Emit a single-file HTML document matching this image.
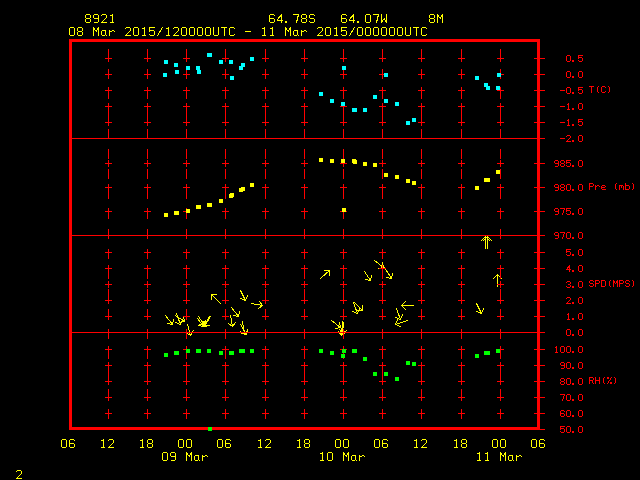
<!DOCTYPE html>
<html><head><meta charset="utf-8"><title>Meteogram 8921</title>
<style>html,body{margin:0;padding:0;background:#000;overflow:hidden;font-family:"Liberation Mono",monospace}svg{display:block}</style>
</head><body>
<svg width="640" height="480" viewBox="0 0 640 480" shape-rendering="crispEdges">
<rect x="0" y="0" width="640" height="480" fill="#000"/>
<path d="M165.5 315.5 L172.5 324.5 M172.5 324.5 L173.5 319.5 M172.5 324.5 L167.5 323.5 M176.5 313.5 L180.5 324.5 M180.5 324.5 L182.5 319.5 M180.5 324.5 L175.5 322.5 M175.5 315.5 L184.5 321.5 M184.5 321.5 L183.5 316.5 M184.5 321.5 L179.5 322.5 M187.5 324.5 L190.5 335.5 M190.5 335.5 L193.5 330.5 M190.5 335.5 L185.5 332.5 M197.5 318.5 L203.5 326.5 M203.5 326.5 L204.5 321.5 M203.5 326.5 L198.5 325.5 M198.5 316.5 L204.5 325.5 M204.5 325.5 L205.5 320.5 M204.5 325.5 L199.5 324.5 M209.5 316.5 L203.5 326.5 M203.5 326.5 L208.5 325.5 M203.5 326.5 L202.5 321.5 M210.5 316.5 L204.5 326.5 M204.5 326.5 L209.5 325.5 M204.5 326.5 L203.5 321.5 M220.5 303.5 L211.5 294.5 M211.5 294.5 L211.5 299.5 M211.5 294.5 L216.5 294.5 M240.5 290.5 L245.5 300.5 M245.5 300.5 L247.5 295.5 M245.5 300.5 L240.5 298.5 M251.5 303.5 L262.5 305.5 M262.5 305.5 L259.5 301.5 M262.5 305.5 L258.5 308.5 M231.5 307.5 L238.5 316.5 M238.5 316.5 L239.5 311.5 M238.5 316.5 L233.5 315.5 M230.5 315.5 L232.5 326.5 M232.5 326.5 L235.5 322.5 M232.5 326.5 L228.5 323.5 M242.5 321.5 L244.5 334.5 M244.5 334.5 L247.5 330.5 M244.5 334.5 L240.5 331.5 M240.5 324.5 L246.5 334.5 M246.5 334.5 L247.5 329.5 M246.5 334.5 L241.5 333.5 M320.5 278.5 L329.5 270.5 M329.5 270.5 L324.5 270.5 M329.5 270.5 L329.5 275.5 M364.5 271.5 L370.5 280.5 M370.5 280.5 L371.5 275.5 M370.5 280.5 L365.5 279.5 M374.5 260.5 L383.5 267.5 M383.5 267.5 L382.5 262.5 M383.5 267.5 L378.5 268.5 M384.5 267.5 L391.5 278.5 M391.5 278.5 L392.5 273.5 M391.5 278.5 L386.5 277.5 M353.5 302.5 L357.5 313.5 M357.5 313.5 L359.5 308.5 M357.5 313.5 L352.5 311.5 M354.5 302.5 L362.5 310.5 M362.5 310.5 L362.5 305.5 M362.5 310.5 L357.5 310.5 M331.5 320.5 L340.5 327.5 M340.5 327.5 L339.5 322.5 M340.5 327.5 L335.5 328.5 M342.5 321.5 L341.5 335.5 M341.5 335.5 L345.5 332.5 M341.5 335.5 L338.5 331.5 M343.5 322.5 L342.5 333.5 M342.5 333.5 L346.5 330.5 M342.5 333.5 L339.5 329.5 M413.5 305.5 L401.5 305.5 M401.5 305.5 L405.5 309.5 M401.5 305.5 L405.5 301.5 M396.5 308.5 L400.5 319.5 M400.5 319.5 L402.5 314.5 M400.5 319.5 L395.5 317.5 M407.5 320.5 L395.5 324.5 M395.5 324.5 L400.5 326.5 M395.5 324.5 L397.5 319.5 M485.5 248.5 L485.5 236.5 M485.5 236.5 L481.5 240.5 M485.5 236.5 L489.5 240.5 M487.5 248.5 L487.5 236.5 M487.5 236.5 L483.5 240.5 M487.5 236.5 L491.5 240.5 M497.5 286.5 L497.5 274.5 M497.5 274.5 L493.5 278.5 M497.5 274.5 L501.5 278.5 M476.5 303.5 L481.5 313.5 M481.5 313.5 L483.5 308.5 M481.5 313.5 L476.5 311.5" fill="none" stroke="#ffff00" stroke-width="1" stroke-linecap="square"/>
<rect x="70.5" y="40.5" width="468" height="388" fill="none" stroke="#ff0000" stroke-width="3"/>
<g fill="#ff0000"><rect x="72" y="138" width="473" height="1"/><rect x="72" y="235" width="473" height="1"/><rect x="72" y="332" width="473" height="1"/><rect x="534" y="58" width="11" height="1"/><rect x="534" y="74" width="11" height="1"/><rect x="534" y="90" width="11" height="1"/><rect x="534" y="106" width="11" height="1"/><rect x="534" y="122" width="11" height="1"/><rect x="534" y="163" width="11" height="1"/><rect x="534" y="187" width="11" height="1"/><rect x="534" y="211" width="11" height="1"/><rect x="534" y="252" width="11" height="1"/><rect x="534" y="268" width="11" height="1"/><rect x="534" y="284" width="11" height="1"/><rect x="534" y="300" width="11" height="1"/><rect x="534" y="316" width="11" height="1"/><rect x="534" y="349" width="11" height="1"/><rect x="534" y="365" width="11" height="1"/><rect x="534" y="381" width="11" height="1"/><rect x="534" y="397" width="11" height="1"/><rect x="534" y="413" width="11" height="1"/><rect x="540" y="429" width="5" height="1"/><rect x="108" y="49" width="1" height="10"/><rect x="108" y="69" width="1" height="10"/><rect x="108" y="89" width="1" height="10"/><rect x="108" y="109" width="1" height="10"/><rect x="108" y="129" width="1" height="10"/><rect x="108" y="149" width="1" height="10"/><rect x="108" y="169" width="1" height="10"/><rect x="108" y="189" width="1" height="10"/><rect x="108" y="209" width="1" height="10"/><rect x="108" y="229" width="1" height="10"/><rect x="108" y="249" width="1" height="10"/><rect x="108" y="269" width="1" height="10"/><rect x="108" y="289" width="1" height="10"/><rect x="108" y="309" width="1" height="10"/><rect x="108" y="329" width="1" height="10"/><rect x="108" y="349" width="1" height="10"/><rect x="108" y="369" width="1" height="10"/><rect x="108" y="389" width="1" height="10"/><rect x="108" y="409" width="1" height="10"/><rect x="105" y="58" width="7" height="1"/><rect x="108" y="55" width="1" height="7"/><rect x="105" y="74" width="7" height="1"/><rect x="108" y="71" width="1" height="7"/><rect x="105" y="90" width="7" height="1"/><rect x="108" y="87" width="1" height="7"/><rect x="105" y="106" width="7" height="1"/><rect x="108" y="103" width="1" height="7"/><rect x="105" y="122" width="7" height="1"/><rect x="108" y="119" width="1" height="7"/><rect x="105" y="163" width="7" height="1"/><rect x="108" y="160" width="1" height="7"/><rect x="105" y="187" width="7" height="1"/><rect x="108" y="184" width="1" height="7"/><rect x="105" y="211" width="7" height="1"/><rect x="108" y="208" width="1" height="7"/><rect x="105" y="252" width="7" height="1"/><rect x="108" y="249" width="1" height="7"/><rect x="105" y="268" width="7" height="1"/><rect x="108" y="265" width="1" height="7"/><rect x="105" y="284" width="7" height="1"/><rect x="108" y="281" width="1" height="7"/><rect x="105" y="300" width="7" height="1"/><rect x="108" y="297" width="1" height="7"/><rect x="105" y="316" width="7" height="1"/><rect x="108" y="313" width="1" height="7"/><rect x="105" y="349" width="7" height="1"/><rect x="108" y="346" width="1" height="7"/><rect x="105" y="365" width="7" height="1"/><rect x="108" y="362" width="1" height="7"/><rect x="105" y="381" width="7" height="1"/><rect x="108" y="378" width="1" height="7"/><rect x="105" y="397" width="7" height="1"/><rect x="108" y="394" width="1" height="7"/><rect x="105" y="413" width="7" height="1"/><rect x="108" y="410" width="1" height="7"/><rect x="147" y="49" width="1" height="10"/><rect x="147" y="69" width="1" height="10"/><rect x="147" y="89" width="1" height="10"/><rect x="147" y="109" width="1" height="10"/><rect x="147" y="129" width="1" height="10"/><rect x="147" y="149" width="1" height="10"/><rect x="147" y="169" width="1" height="10"/><rect x="147" y="189" width="1" height="10"/><rect x="147" y="209" width="1" height="10"/><rect x="147" y="229" width="1" height="10"/><rect x="147" y="249" width="1" height="10"/><rect x="147" y="269" width="1" height="10"/><rect x="147" y="289" width="1" height="10"/><rect x="147" y="309" width="1" height="10"/><rect x="147" y="329" width="1" height="10"/><rect x="147" y="349" width="1" height="10"/><rect x="147" y="369" width="1" height="10"/><rect x="147" y="389" width="1" height="10"/><rect x="147" y="409" width="1" height="10"/><rect x="144" y="58" width="7" height="1"/><rect x="147" y="55" width="1" height="7"/><rect x="144" y="74" width="7" height="1"/><rect x="147" y="71" width="1" height="7"/><rect x="144" y="90" width="7" height="1"/><rect x="147" y="87" width="1" height="7"/><rect x="144" y="106" width="7" height="1"/><rect x="147" y="103" width="1" height="7"/><rect x="144" y="122" width="7" height="1"/><rect x="147" y="119" width="1" height="7"/><rect x="144" y="163" width="7" height="1"/><rect x="147" y="160" width="1" height="7"/><rect x="144" y="187" width="7" height="1"/><rect x="147" y="184" width="1" height="7"/><rect x="144" y="211" width="7" height="1"/><rect x="147" y="208" width="1" height="7"/><rect x="144" y="252" width="7" height="1"/><rect x="147" y="249" width="1" height="7"/><rect x="144" y="268" width="7" height="1"/><rect x="147" y="265" width="1" height="7"/><rect x="144" y="284" width="7" height="1"/><rect x="147" y="281" width="1" height="7"/><rect x="144" y="300" width="7" height="1"/><rect x="147" y="297" width="1" height="7"/><rect x="144" y="316" width="7" height="1"/><rect x="147" y="313" width="1" height="7"/><rect x="144" y="349" width="7" height="1"/><rect x="147" y="346" width="1" height="7"/><rect x="144" y="365" width="7" height="1"/><rect x="147" y="362" width="1" height="7"/><rect x="144" y="381" width="7" height="1"/><rect x="147" y="378" width="1" height="7"/><rect x="144" y="397" width="7" height="1"/><rect x="147" y="394" width="1" height="7"/><rect x="144" y="413" width="7" height="1"/><rect x="147" y="410" width="1" height="7"/><rect x="186" y="49" width="1" height="10"/><rect x="186" y="69" width="1" height="10"/><rect x="186" y="89" width="1" height="10"/><rect x="186" y="109" width="1" height="10"/><rect x="186" y="129" width="1" height="10"/><rect x="186" y="149" width="1" height="10"/><rect x="186" y="169" width="1" height="10"/><rect x="186" y="189" width="1" height="10"/><rect x="186" y="209" width="1" height="10"/><rect x="186" y="229" width="1" height="10"/><rect x="186" y="249" width="1" height="10"/><rect x="186" y="269" width="1" height="10"/><rect x="186" y="289" width="1" height="10"/><rect x="186" y="309" width="1" height="10"/><rect x="186" y="329" width="1" height="10"/><rect x="186" y="349" width="1" height="10"/><rect x="186" y="369" width="1" height="10"/><rect x="186" y="389" width="1" height="10"/><rect x="186" y="409" width="1" height="10"/><rect x="183" y="58" width="7" height="1"/><rect x="186" y="55" width="1" height="7"/><rect x="183" y="74" width="7" height="1"/><rect x="186" y="71" width="1" height="7"/><rect x="183" y="90" width="7" height="1"/><rect x="186" y="87" width="1" height="7"/><rect x="183" y="106" width="7" height="1"/><rect x="186" y="103" width="1" height="7"/><rect x="183" y="122" width="7" height="1"/><rect x="186" y="119" width="1" height="7"/><rect x="183" y="163" width="7" height="1"/><rect x="186" y="160" width="1" height="7"/><rect x="183" y="187" width="7" height="1"/><rect x="186" y="184" width="1" height="7"/><rect x="183" y="211" width="7" height="1"/><rect x="186" y="208" width="1" height="7"/><rect x="183" y="252" width="7" height="1"/><rect x="186" y="249" width="1" height="7"/><rect x="183" y="268" width="7" height="1"/><rect x="186" y="265" width="1" height="7"/><rect x="183" y="284" width="7" height="1"/><rect x="186" y="281" width="1" height="7"/><rect x="183" y="300" width="7" height="1"/><rect x="186" y="297" width="1" height="7"/><rect x="183" y="316" width="7" height="1"/><rect x="186" y="313" width="1" height="7"/><rect x="183" y="349" width="7" height="1"/><rect x="186" y="346" width="1" height="7"/><rect x="183" y="365" width="7" height="1"/><rect x="186" y="362" width="1" height="7"/><rect x="183" y="381" width="7" height="1"/><rect x="186" y="378" width="1" height="7"/><rect x="183" y="397" width="7" height="1"/><rect x="186" y="394" width="1" height="7"/><rect x="183" y="413" width="7" height="1"/><rect x="186" y="410" width="1" height="7"/><rect x="225" y="49" width="1" height="10"/><rect x="225" y="69" width="1" height="10"/><rect x="225" y="89" width="1" height="10"/><rect x="225" y="109" width="1" height="10"/><rect x="225" y="129" width="1" height="10"/><rect x="225" y="149" width="1" height="10"/><rect x="225" y="169" width="1" height="10"/><rect x="225" y="189" width="1" height="10"/><rect x="225" y="209" width="1" height="10"/><rect x="225" y="229" width="1" height="10"/><rect x="225" y="249" width="1" height="10"/><rect x="225" y="269" width="1" height="10"/><rect x="225" y="289" width="1" height="10"/><rect x="225" y="309" width="1" height="10"/><rect x="225" y="329" width="1" height="10"/><rect x="225" y="349" width="1" height="10"/><rect x="225" y="369" width="1" height="10"/><rect x="225" y="389" width="1" height="10"/><rect x="225" y="409" width="1" height="10"/><rect x="222" y="58" width="7" height="1"/><rect x="225" y="55" width="1" height="7"/><rect x="222" y="74" width="7" height="1"/><rect x="225" y="71" width="1" height="7"/><rect x="222" y="90" width="7" height="1"/><rect x="225" y="87" width="1" height="7"/><rect x="222" y="106" width="7" height="1"/><rect x="225" y="103" width="1" height="7"/><rect x="222" y="122" width="7" height="1"/><rect x="225" y="119" width="1" height="7"/><rect x="222" y="163" width="7" height="1"/><rect x="225" y="160" width="1" height="7"/><rect x="222" y="187" width="7" height="1"/><rect x="225" y="184" width="1" height="7"/><rect x="222" y="211" width="7" height="1"/><rect x="225" y="208" width="1" height="7"/><rect x="222" y="252" width="7" height="1"/><rect x="225" y="249" width="1" height="7"/><rect x="222" y="268" width="7" height="1"/><rect x="225" y="265" width="1" height="7"/><rect x="222" y="284" width="7" height="1"/><rect x="225" y="281" width="1" height="7"/><rect x="222" y="300" width="7" height="1"/><rect x="225" y="297" width="1" height="7"/><rect x="222" y="316" width="7" height="1"/><rect x="225" y="313" width="1" height="7"/><rect x="222" y="349" width="7" height="1"/><rect x="225" y="346" width="1" height="7"/><rect x="222" y="365" width="7" height="1"/><rect x="225" y="362" width="1" height="7"/><rect x="222" y="381" width="7" height="1"/><rect x="225" y="378" width="1" height="7"/><rect x="222" y="397" width="7" height="1"/><rect x="225" y="394" width="1" height="7"/><rect x="222" y="413" width="7" height="1"/><rect x="225" y="410" width="1" height="7"/><rect x="265" y="49" width="1" height="10"/><rect x="265" y="69" width="1" height="10"/><rect x="265" y="89" width="1" height="10"/><rect x="265" y="109" width="1" height="10"/><rect x="265" y="129" width="1" height="10"/><rect x="265" y="149" width="1" height="10"/><rect x="265" y="169" width="1" height="10"/><rect x="265" y="189" width="1" height="10"/><rect x="265" y="209" width="1" height="10"/><rect x="265" y="229" width="1" height="10"/><rect x="265" y="249" width="1" height="10"/><rect x="265" y="269" width="1" height="10"/><rect x="265" y="289" width="1" height="10"/><rect x="265" y="309" width="1" height="10"/><rect x="265" y="329" width="1" height="10"/><rect x="265" y="349" width="1" height="10"/><rect x="265" y="369" width="1" height="10"/><rect x="265" y="389" width="1" height="10"/><rect x="265" y="409" width="1" height="10"/><rect x="262" y="58" width="7" height="1"/><rect x="265" y="55" width="1" height="7"/><rect x="262" y="74" width="7" height="1"/><rect x="265" y="71" width="1" height="7"/><rect x="262" y="90" width="7" height="1"/><rect x="265" y="87" width="1" height="7"/><rect x="262" y="106" width="7" height="1"/><rect x="265" y="103" width="1" height="7"/><rect x="262" y="122" width="7" height="1"/><rect x="265" y="119" width="1" height="7"/><rect x="262" y="163" width="7" height="1"/><rect x="265" y="160" width="1" height="7"/><rect x="262" y="187" width="7" height="1"/><rect x="265" y="184" width="1" height="7"/><rect x="262" y="211" width="7" height="1"/><rect x="265" y="208" width="1" height="7"/><rect x="262" y="252" width="7" height="1"/><rect x="265" y="249" width="1" height="7"/><rect x="262" y="268" width="7" height="1"/><rect x="265" y="265" width="1" height="7"/><rect x="262" y="284" width="7" height="1"/><rect x="265" y="281" width="1" height="7"/><rect x="262" y="300" width="7" height="1"/><rect x="265" y="297" width="1" height="7"/><rect x="262" y="316" width="7" height="1"/><rect x="265" y="313" width="1" height="7"/><rect x="262" y="349" width="7" height="1"/><rect x="265" y="346" width="1" height="7"/><rect x="262" y="365" width="7" height="1"/><rect x="265" y="362" width="1" height="7"/><rect x="262" y="381" width="7" height="1"/><rect x="265" y="378" width="1" height="7"/><rect x="262" y="397" width="7" height="1"/><rect x="265" y="394" width="1" height="7"/><rect x="262" y="413" width="7" height="1"/><rect x="265" y="410" width="1" height="7"/><rect x="304" y="49" width="1" height="10"/><rect x="304" y="69" width="1" height="10"/><rect x="304" y="89" width="1" height="10"/><rect x="304" y="109" width="1" height="10"/><rect x="304" y="129" width="1" height="10"/><rect x="304" y="149" width="1" height="10"/><rect x="304" y="169" width="1" height="10"/><rect x="304" y="189" width="1" height="10"/><rect x="304" y="209" width="1" height="10"/><rect x="304" y="229" width="1" height="10"/><rect x="304" y="249" width="1" height="10"/><rect x="304" y="269" width="1" height="10"/><rect x="304" y="289" width="1" height="10"/><rect x="304" y="309" width="1" height="10"/><rect x="304" y="329" width="1" height="10"/><rect x="304" y="349" width="1" height="10"/><rect x="304" y="369" width="1" height="10"/><rect x="304" y="389" width="1" height="10"/><rect x="304" y="409" width="1" height="10"/><rect x="301" y="58" width="7" height="1"/><rect x="304" y="55" width="1" height="7"/><rect x="301" y="74" width="7" height="1"/><rect x="304" y="71" width="1" height="7"/><rect x="301" y="90" width="7" height="1"/><rect x="304" y="87" width="1" height="7"/><rect x="301" y="106" width="7" height="1"/><rect x="304" y="103" width="1" height="7"/><rect x="301" y="122" width="7" height="1"/><rect x="304" y="119" width="1" height="7"/><rect x="301" y="163" width="7" height="1"/><rect x="304" y="160" width="1" height="7"/><rect x="301" y="187" width="7" height="1"/><rect x="304" y="184" width="1" height="7"/><rect x="301" y="211" width="7" height="1"/><rect x="304" y="208" width="1" height="7"/><rect x="301" y="252" width="7" height="1"/><rect x="304" y="249" width="1" height="7"/><rect x="301" y="268" width="7" height="1"/><rect x="304" y="265" width="1" height="7"/><rect x="301" y="284" width="7" height="1"/><rect x="304" y="281" width="1" height="7"/><rect x="301" y="300" width="7" height="1"/><rect x="304" y="297" width="1" height="7"/><rect x="301" y="316" width="7" height="1"/><rect x="304" y="313" width="1" height="7"/><rect x="301" y="349" width="7" height="1"/><rect x="304" y="346" width="1" height="7"/><rect x="301" y="365" width="7" height="1"/><rect x="304" y="362" width="1" height="7"/><rect x="301" y="381" width="7" height="1"/><rect x="304" y="378" width="1" height="7"/><rect x="301" y="397" width="7" height="1"/><rect x="304" y="394" width="1" height="7"/><rect x="301" y="413" width="7" height="1"/><rect x="304" y="410" width="1" height="7"/><rect x="343" y="49" width="1" height="10"/><rect x="343" y="69" width="1" height="10"/><rect x="343" y="89" width="1" height="10"/><rect x="343" y="109" width="1" height="10"/><rect x="343" y="129" width="1" height="10"/><rect x="343" y="149" width="1" height="10"/><rect x="343" y="169" width="1" height="10"/><rect x="343" y="189" width="1" height="10"/><rect x="343" y="209" width="1" height="10"/><rect x="343" y="229" width="1" height="10"/><rect x="343" y="249" width="1" height="10"/><rect x="343" y="269" width="1" height="10"/><rect x="343" y="289" width="1" height="10"/><rect x="343" y="309" width="1" height="10"/><rect x="343" y="329" width="1" height="10"/><rect x="343" y="349" width="1" height="10"/><rect x="343" y="369" width="1" height="10"/><rect x="343" y="389" width="1" height="10"/><rect x="343" y="409" width="1" height="10"/><rect x="340" y="58" width="7" height="1"/><rect x="343" y="55" width="1" height="7"/><rect x="340" y="74" width="7" height="1"/><rect x="343" y="71" width="1" height="7"/><rect x="340" y="90" width="7" height="1"/><rect x="343" y="87" width="1" height="7"/><rect x="340" y="106" width="7" height="1"/><rect x="343" y="103" width="1" height="7"/><rect x="340" y="122" width="7" height="1"/><rect x="343" y="119" width="1" height="7"/><rect x="340" y="163" width="7" height="1"/><rect x="343" y="160" width="1" height="7"/><rect x="340" y="187" width="7" height="1"/><rect x="343" y="184" width="1" height="7"/><rect x="340" y="211" width="7" height="1"/><rect x="343" y="208" width="1" height="7"/><rect x="340" y="252" width="7" height="1"/><rect x="343" y="249" width="1" height="7"/><rect x="340" y="268" width="7" height="1"/><rect x="343" y="265" width="1" height="7"/><rect x="340" y="284" width="7" height="1"/><rect x="343" y="281" width="1" height="7"/><rect x="340" y="300" width="7" height="1"/><rect x="343" y="297" width="1" height="7"/><rect x="340" y="316" width="7" height="1"/><rect x="343" y="313" width="1" height="7"/><rect x="340" y="349" width="7" height="1"/><rect x="343" y="346" width="1" height="7"/><rect x="340" y="365" width="7" height="1"/><rect x="343" y="362" width="1" height="7"/><rect x="340" y="381" width="7" height="1"/><rect x="343" y="378" width="1" height="7"/><rect x="340" y="397" width="7" height="1"/><rect x="343" y="394" width="1" height="7"/><rect x="340" y="413" width="7" height="1"/><rect x="343" y="410" width="1" height="7"/><rect x="382" y="49" width="1" height="10"/><rect x="382" y="69" width="1" height="10"/><rect x="382" y="89" width="1" height="10"/><rect x="382" y="109" width="1" height="10"/><rect x="382" y="129" width="1" height="10"/><rect x="382" y="149" width="1" height="10"/><rect x="382" y="169" width="1" height="10"/><rect x="382" y="189" width="1" height="10"/><rect x="382" y="209" width="1" height="10"/><rect x="382" y="229" width="1" height="10"/><rect x="382" y="249" width="1" height="10"/><rect x="382" y="269" width="1" height="10"/><rect x="382" y="289" width="1" height="10"/><rect x="382" y="309" width="1" height="10"/><rect x="382" y="329" width="1" height="10"/><rect x="382" y="349" width="1" height="10"/><rect x="382" y="369" width="1" height="10"/><rect x="382" y="389" width="1" height="10"/><rect x="382" y="409" width="1" height="10"/><rect x="379" y="58" width="7" height="1"/><rect x="382" y="55" width="1" height="7"/><rect x="379" y="74" width="7" height="1"/><rect x="382" y="71" width="1" height="7"/><rect x="379" y="90" width="7" height="1"/><rect x="382" y="87" width="1" height="7"/><rect x="379" y="106" width="7" height="1"/><rect x="382" y="103" width="1" height="7"/><rect x="379" y="122" width="7" height="1"/><rect x="382" y="119" width="1" height="7"/><rect x="379" y="163" width="7" height="1"/><rect x="382" y="160" width="1" height="7"/><rect x="379" y="187" width="7" height="1"/><rect x="382" y="184" width="1" height="7"/><rect x="379" y="211" width="7" height="1"/><rect x="382" y="208" width="1" height="7"/><rect x="379" y="252" width="7" height="1"/><rect x="382" y="249" width="1" height="7"/><rect x="379" y="268" width="7" height="1"/><rect x="382" y="265" width="1" height="7"/><rect x="379" y="284" width="7" height="1"/><rect x="382" y="281" width="1" height="7"/><rect x="379" y="300" width="7" height="1"/><rect x="382" y="297" width="1" height="7"/><rect x="379" y="316" width="7" height="1"/><rect x="382" y="313" width="1" height="7"/><rect x="379" y="349" width="7" height="1"/><rect x="382" y="346" width="1" height="7"/><rect x="379" y="365" width="7" height="1"/><rect x="382" y="362" width="1" height="7"/><rect x="379" y="381" width="7" height="1"/><rect x="382" y="378" width="1" height="7"/><rect x="379" y="397" width="7" height="1"/><rect x="382" y="394" width="1" height="7"/><rect x="379" y="413" width="7" height="1"/><rect x="382" y="410" width="1" height="7"/><rect x="421" y="49" width="1" height="10"/><rect x="421" y="69" width="1" height="10"/><rect x="421" y="89" width="1" height="10"/><rect x="421" y="109" width="1" height="10"/><rect x="421" y="129" width="1" height="10"/><rect x="421" y="149" width="1" height="10"/><rect x="421" y="169" width="1" height="10"/><rect x="421" y="189" width="1" height="10"/><rect x="421" y="209" width="1" height="10"/><rect x="421" y="229" width="1" height="10"/><rect x="421" y="249" width="1" height="10"/><rect x="421" y="269" width="1" height="10"/><rect x="421" y="289" width="1" height="10"/><rect x="421" y="309" width="1" height="10"/><rect x="421" y="329" width="1" height="10"/><rect x="421" y="349" width="1" height="10"/><rect x="421" y="369" width="1" height="10"/><rect x="421" y="389" width="1" height="10"/><rect x="421" y="409" width="1" height="10"/><rect x="418" y="58" width="7" height="1"/><rect x="421" y="55" width="1" height="7"/><rect x="418" y="74" width="7" height="1"/><rect x="421" y="71" width="1" height="7"/><rect x="418" y="90" width="7" height="1"/><rect x="421" y="87" width="1" height="7"/><rect x="418" y="106" width="7" height="1"/><rect x="421" y="103" width="1" height="7"/><rect x="418" y="122" width="7" height="1"/><rect x="421" y="119" width="1" height="7"/><rect x="418" y="163" width="7" height="1"/><rect x="421" y="160" width="1" height="7"/><rect x="418" y="187" width="7" height="1"/><rect x="421" y="184" width="1" height="7"/><rect x="418" y="211" width="7" height="1"/><rect x="421" y="208" width="1" height="7"/><rect x="418" y="252" width="7" height="1"/><rect x="421" y="249" width="1" height="7"/><rect x="418" y="268" width="7" height="1"/><rect x="421" y="265" width="1" height="7"/><rect x="418" y="284" width="7" height="1"/><rect x="421" y="281" width="1" height="7"/><rect x="418" y="300" width="7" height="1"/><rect x="421" y="297" width="1" height="7"/><rect x="418" y="316" width="7" height="1"/><rect x="421" y="313" width="1" height="7"/><rect x="418" y="349" width="7" height="1"/><rect x="421" y="346" width="1" height="7"/><rect x="418" y="365" width="7" height="1"/><rect x="421" y="362" width="1" height="7"/><rect x="418" y="381" width="7" height="1"/><rect x="421" y="378" width="1" height="7"/><rect x="418" y="397" width="7" height="1"/><rect x="421" y="394" width="1" height="7"/><rect x="418" y="413" width="7" height="1"/><rect x="421" y="410" width="1" height="7"/><rect x="461" y="49" width="1" height="10"/><rect x="461" y="69" width="1" height="10"/><rect x="461" y="89" width="1" height="10"/><rect x="461" y="109" width="1" height="10"/><rect x="461" y="129" width="1" height="10"/><rect x="461" y="149" width="1" height="10"/><rect x="461" y="169" width="1" height="10"/><rect x="461" y="189" width="1" height="10"/><rect x="461" y="209" width="1" height="10"/><rect x="461" y="229" width="1" height="10"/><rect x="461" y="249" width="1" height="10"/><rect x="461" y="269" width="1" height="10"/><rect x="461" y="289" width="1" height="10"/><rect x="461" y="309" width="1" height="10"/><rect x="461" y="329" width="1" height="10"/><rect x="461" y="349" width="1" height="10"/><rect x="461" y="369" width="1" height="10"/><rect x="461" y="389" width="1" height="10"/><rect x="461" y="409" width="1" height="10"/><rect x="458" y="58" width="7" height="1"/><rect x="461" y="55" width="1" height="7"/><rect x="458" y="74" width="7" height="1"/><rect x="461" y="71" width="1" height="7"/><rect x="458" y="90" width="7" height="1"/><rect x="461" y="87" width="1" height="7"/><rect x="458" y="106" width="7" height="1"/><rect x="461" y="103" width="1" height="7"/><rect x="458" y="122" width="7" height="1"/><rect x="461" y="119" width="1" height="7"/><rect x="458" y="163" width="7" height="1"/><rect x="461" y="160" width="1" height="7"/><rect x="458" y="187" width="7" height="1"/><rect x="461" y="184" width="1" height="7"/><rect x="458" y="211" width="7" height="1"/><rect x="461" y="208" width="1" height="7"/><rect x="458" y="252" width="7" height="1"/><rect x="461" y="249" width="1" height="7"/><rect x="458" y="268" width="7" height="1"/><rect x="461" y="265" width="1" height="7"/><rect x="458" y="284" width="7" height="1"/><rect x="461" y="281" width="1" height="7"/><rect x="458" y="300" width="7" height="1"/><rect x="461" y="297" width="1" height="7"/><rect x="458" y="316" width="7" height="1"/><rect x="461" y="313" width="1" height="7"/><rect x="458" y="349" width="7" height="1"/><rect x="461" y="346" width="1" height="7"/><rect x="458" y="365" width="7" height="1"/><rect x="461" y="362" width="1" height="7"/><rect x="458" y="381" width="7" height="1"/><rect x="461" y="378" width="1" height="7"/><rect x="458" y="397" width="7" height="1"/><rect x="461" y="394" width="1" height="7"/><rect x="458" y="413" width="7" height="1"/><rect x="461" y="410" width="1" height="7"/><rect x="500" y="49" width="1" height="10"/><rect x="500" y="69" width="1" height="10"/><rect x="500" y="89" width="1" height="10"/><rect x="500" y="109" width="1" height="10"/><rect x="500" y="129" width="1" height="10"/><rect x="500" y="149" width="1" height="10"/><rect x="500" y="169" width="1" height="10"/><rect x="500" y="189" width="1" height="10"/><rect x="500" y="209" width="1" height="10"/><rect x="500" y="229" width="1" height="10"/><rect x="500" y="249" width="1" height="10"/><rect x="500" y="269" width="1" height="10"/><rect x="500" y="289" width="1" height="10"/><rect x="500" y="309" width="1" height="10"/><rect x="500" y="329" width="1" height="10"/><rect x="500" y="349" width="1" height="10"/><rect x="500" y="369" width="1" height="10"/><rect x="500" y="389" width="1" height="10"/><rect x="500" y="409" width="1" height="10"/><rect x="497" y="58" width="7" height="1"/><rect x="500" y="55" width="1" height="7"/><rect x="497" y="74" width="7" height="1"/><rect x="500" y="71" width="1" height="7"/><rect x="497" y="90" width="7" height="1"/><rect x="500" y="87" width="1" height="7"/><rect x="497" y="106" width="7" height="1"/><rect x="500" y="103" width="1" height="7"/><rect x="497" y="122" width="7" height="1"/><rect x="500" y="119" width="1" height="7"/><rect x="497" y="163" width="7" height="1"/><rect x="500" y="160" width="1" height="7"/><rect x="497" y="187" width="7" height="1"/><rect x="500" y="184" width="1" height="7"/><rect x="497" y="211" width="7" height="1"/><rect x="500" y="208" width="1" height="7"/><rect x="497" y="252" width="7" height="1"/><rect x="500" y="249" width="1" height="7"/><rect x="497" y="268" width="7" height="1"/><rect x="500" y="265" width="1" height="7"/><rect x="497" y="284" width="7" height="1"/><rect x="500" y="281" width="1" height="7"/><rect x="497" y="300" width="7" height="1"/><rect x="500" y="297" width="1" height="7"/><rect x="497" y="316" width="7" height="1"/><rect x="500" y="313" width="1" height="7"/><rect x="497" y="349" width="7" height="1"/><rect x="500" y="346" width="1" height="7"/><rect x="497" y="365" width="7" height="1"/><rect x="500" y="362" width="1" height="7"/><rect x="497" y="381" width="7" height="1"/><rect x="500" y="378" width="1" height="7"/><rect x="497" y="397" width="7" height="1"/><rect x="500" y="394" width="1" height="7"/><rect x="497" y="413" width="7" height="1"/><rect x="500" y="410" width="1" height="7"/></g>
<g fill="#00ffff"><rect x="164" y="60" width="4" height="4"/><rect x="163" y="73" width="4" height="4"/><rect x="174" y="63" width="4" height="4"/><rect x="175" y="70" width="4" height="4"/><rect x="186" y="66" width="4" height="4"/><rect x="196" y="66" width="4" height="4"/><rect x="197" y="70" width="4" height="4"/><rect x="207" y="53" width="4" height="4"/><rect x="208" y="53" width="4" height="4"/><rect x="219" y="60" width="4" height="4"/><rect x="229" y="60" width="4" height="4"/><rect x="230" y="76" width="4" height="4"/><rect x="239" y="66" width="4" height="4"/><rect x="241" y="63" width="4" height="4"/><rect x="250" y="57" width="4" height="4"/><rect x="319" y="92" width="4" height="4"/><rect x="330" y="99" width="4" height="4"/><rect x="341" y="102" width="4" height="4"/><rect x="342" y="66" width="4" height="4"/><rect x="352" y="108" width="4" height="4"/><rect x="353" y="108" width="4" height="4"/><rect x="363" y="108" width="4" height="4"/><rect x="373" y="95" width="4" height="4"/><rect x="384" y="73" width="4" height="4"/><rect x="384" y="99" width="4" height="4"/><rect x="395" y="102" width="4" height="4"/><rect x="406" y="121" width="4" height="4"/><rect x="412" y="118" width="4" height="4"/><rect x="475" y="76" width="4" height="4"/><rect x="484" y="83" width="4" height="4"/><rect x="486" y="86" width="4" height="4"/><rect x="497" y="73" width="4" height="4"/><rect x="496" y="86" width="4" height="4"/></g>
<g fill="#ffff00"><rect x="164" y="213" width="4" height="4"/><rect x="174" y="211" width="4" height="4"/><rect x="175" y="211" width="4" height="4"/><rect x="186" y="209" width="4" height="4"/><rect x="196" y="205" width="4" height="4"/><rect x="197" y="205" width="4" height="4"/><rect x="207" y="203" width="4" height="4"/><rect x="208" y="203" width="4" height="4"/><rect x="219" y="199" width="4" height="4"/><rect x="229" y="194" width="4" height="4"/><rect x="230" y="193" width="4" height="4"/><rect x="239" y="188" width="4" height="4"/><rect x="241" y="187" width="4" height="4"/><rect x="250" y="183" width="4" height="4"/><rect x="319" y="158" width="4" height="4"/><rect x="330" y="159" width="4" height="4"/><rect x="341" y="159" width="4" height="4"/><rect x="352" y="159" width="4" height="4"/><rect x="353" y="160" width="4" height="4"/><rect x="363" y="162" width="4" height="4"/><rect x="373" y="163" width="4" height="4"/><rect x="384" y="173" width="4" height="4"/><rect x="395" y="175" width="4" height="4"/><rect x="406" y="179" width="4" height="4"/><rect x="412" y="181" width="4" height="4"/><rect x="342" y="208" width="4" height="4"/><rect x="475" y="186" width="4" height="4"/><rect x="484" y="178" width="4" height="4"/><rect x="486" y="178" width="4" height="4"/><rect x="496" y="170" width="4" height="4"/></g>
<g fill="#00ff00"><rect x="164" y="353" width="4" height="4"/><rect x="174" y="351" width="4" height="4"/><rect x="175" y="351" width="4" height="4"/><rect x="186" y="349" width="4" height="4"/><rect x="196" y="349" width="4" height="4"/><rect x="197" y="349" width="4" height="4"/><rect x="207" y="349" width="4" height="4"/><rect x="219" y="351" width="4" height="4"/><rect x="229" y="351" width="4" height="4"/><rect x="230" y="351" width="4" height="4"/><rect x="239" y="349" width="4" height="4"/><rect x="241" y="349" width="4" height="4"/><rect x="250" y="349" width="4" height="4"/><rect x="208" y="427" width="4" height="4"/><rect x="319" y="349" width="4" height="4"/><rect x="330" y="351" width="4" height="4"/><rect x="342" y="349" width="4" height="4"/><rect x="341" y="354" width="4" height="4"/><rect x="352" y="349" width="4" height="4"/><rect x="353" y="349" width="4" height="4"/><rect x="363" y="357" width="4" height="4"/><rect x="373" y="372" width="4" height="4"/><rect x="384" y="372" width="4" height="4"/><rect x="395" y="377" width="4" height="4"/><rect x="406" y="361" width="4" height="4"/><rect x="412" y="362" width="4" height="4"/><rect x="475" y="354" width="4" height="4"/><rect x="484" y="351" width="4" height="4"/><rect x="486" y="351" width="4" height="4"/><rect x="496" y="349" width="4" height="4"/></g>
<path d="M86.5 14.5 L89.5 14.5 L90.5 15.5 L90.5 17.5 L89.5 18.5 L86.5 18.5 L85.5 17.5 L85.5 15.5 L86.5 14.5 M86.5 18.5 L85.5 19.5 L85.5 21.5 L86.5 22.5 L89.5 22.5 L90.5 21.5 L90.5 19.5 L89.5 18.5 M98.5 17.5 L97.5 18.5 L94.5 18.5 L93.5 17.5 L93.5 15.5 L94.5 14.5 L97.5 14.5 L98.5 15.5 L98.5 21.5 L97.5 22.5 L94.5 22.5 M101.5 15.5 L102.5 14.5 L105.5 14.5 L106.5 15.5 L106.5 17.5 L101.5 22.5 L106.5 22.5 M110.5 15.5 L111.5 15.5 L112.5 14.5 L112.5 22.5 M110.5 22.5 L113.5 22.5" fill="none" stroke="#ffff00" stroke-width="1" stroke-linecap="square" stroke-linejoin="miter"/>
<path d="M274.5 15.5 L273.5 14.5 L270.5 14.5 L269.5 15.5 L269.5 21.5 L270.5 22.5 L273.5 22.5 L274.5 21.5 L274.5 19.5 L273.5 18.5 L270.5 18.5 L269.5 19.5 M281.5 22.5 L281.5 14.5 L277.5 19.5 L277.5 20.5 L282.5 20.5 M293.5 14.5 L298.5 14.5 L296.5 22.5 M302.5 14.5 L305.5 14.5 L306.5 15.5 L306.5 17.5 L305.5 18.5 L302.5 18.5 L301.5 17.5 L301.5 15.5 L302.5 14.5 M302.5 18.5 L301.5 19.5 L301.5 21.5 L302.5 22.5 L305.5 22.5 L306.5 21.5 L306.5 19.5 L305.5 18.5 M314.5 15.5 L313.5 14.5 L310.5 14.5 L309.5 15.5 L309.5 17.5 L310.5 18.5 L313.5 18.5 L314.5 19.5 L314.5 21.5 L313.5 22.5 L310.5 22.5 L309.5 21.5" fill="none" stroke="#ffff00" stroke-width="1" stroke-linecap="square" stroke-linejoin="miter"/>
<g fill="#ffff00"><rect x="285" y="21" width="2" height="2"/></g>
<path d="M346.5 15.5 L345.5 14.5 L342.5 14.5 L341.5 15.5 L341.5 21.5 L342.5 22.5 L345.5 22.5 L346.5 21.5 L346.5 19.5 L345.5 18.5 L342.5 18.5 L341.5 19.5 M353.5 22.5 L353.5 14.5 L349.5 19.5 L349.5 20.5 L354.5 20.5 M366.5 14.5 L369.5 14.5 L370.5 15.5 L370.5 21.5 L369.5 22.5 L366.5 22.5 L365.5 21.5 L365.5 15.5 L366.5 14.5 M373.5 14.5 L378.5 14.5 L376.5 22.5 M381.5 14.5 L381.5 22.5 M386.5 14.5 L386.5 22.5 M382.5 21.5 L382.5 20.5 L383.5 19.5 L384.5 18.5 L384.5 19.5 L385.5 20.5 L385.5 21.5" fill="none" stroke="#ffff00" stroke-width="1" stroke-linecap="square" stroke-linejoin="miter"/>
<g fill="#ffff00"><rect x="357" y="21" width="2" height="2"/></g>
<path d="M430.5 14.5 L433.5 14.5 L434.5 15.5 L434.5 17.5 L433.5 18.5 L430.5 18.5 L429.5 17.5 L429.5 15.5 L430.5 14.5 M430.5 18.5 L429.5 19.5 L429.5 21.5 L430.5 22.5 L433.5 22.5 L434.5 21.5 L434.5 19.5 L433.5 18.5 M437.5 22.5 L437.5 14.5 M442.5 22.5 L442.5 14.5 M438.5 15.5 L438.5 16.5 L439.5 17.5 L440.5 18.5 L440.5 17.5 L441.5 16.5 L441.5 15.5" fill="none" stroke="#ffff00" stroke-width="1" stroke-linecap="square" stroke-linejoin="miter"/>
<path d="M70.5 27.5 L73.5 27.5 L74.5 28.5 L74.5 34.5 L73.5 35.5 L70.5 35.5 L69.5 34.5 L69.5 28.5 L70.5 27.5 M78.5 27.5 L81.5 27.5 L82.5 28.5 L82.5 30.5 L81.5 31.5 L78.5 31.5 L77.5 30.5 L77.5 28.5 L78.5 27.5 M78.5 31.5 L77.5 32.5 L77.5 34.5 L78.5 35.5 L81.5 35.5 L82.5 34.5 L82.5 32.5 L81.5 31.5 M93.5 35.5 L93.5 27.5 M98.5 35.5 L98.5 27.5 M94.5 28.5 L94.5 29.5 L95.5 30.5 L96.5 31.5 L96.5 30.5 L97.5 29.5 L97.5 28.5 M105.5 30.5 L102.5 30.5 L101.5 31.5 L101.5 34.5 L102.5 35.5 L104.5 35.5 L105.5 34.5 M105.5 30.5 L105.5 34.5 L106.5 35.5 M109.5 30.5 L109.5 35.5 M109.5 31.5 L111.5 31.5 L112.5 30.5 L113.5 30.5 L114.5 31.5 M125.5 28.5 L126.5 27.5 L129.5 27.5 L130.5 28.5 L130.5 30.5 L125.5 35.5 L130.5 35.5 M134.5 27.5 L137.5 27.5 L138.5 28.5 L138.5 34.5 L137.5 35.5 L134.5 35.5 L133.5 34.5 L133.5 28.5 L134.5 27.5 M142.5 28.5 L143.5 28.5 L144.5 27.5 L144.5 35.5 M142.5 35.5 L145.5 35.5 M154.5 27.5 L149.5 27.5 L149.5 31.5 L150.5 30.5 L153.5 30.5 L154.5 31.5 L154.5 34.5 L153.5 35.5 L150.5 35.5 L149.5 34.5 M157.5 35.5 L162.5 27.5 M166.5 28.5 L167.5 28.5 L168.5 27.5 L168.5 35.5 M166.5 35.5 L169.5 35.5 M173.5 28.5 L174.5 27.5 L177.5 27.5 L178.5 28.5 L178.5 30.5 L173.5 35.5 L178.5 35.5 M182.5 27.5 L185.5 27.5 L186.5 28.5 L186.5 34.5 L185.5 35.5 L182.5 35.5 L181.5 34.5 L181.5 28.5 L182.5 27.5 M190.5 27.5 L193.5 27.5 L194.5 28.5 L194.5 34.5 L193.5 35.5 L190.5 35.5 L189.5 34.5 L189.5 28.5 L190.5 27.5 M198.5 27.5 L201.5 27.5 L202.5 28.5 L202.5 34.5 L201.5 35.5 L198.5 35.5 L197.5 34.5 L197.5 28.5 L198.5 27.5 M206.5 27.5 L209.5 27.5 L210.5 28.5 L210.5 34.5 L209.5 35.5 L206.5 35.5 L205.5 34.5 L205.5 28.5 L206.5 27.5 M213.5 27.5 L213.5 34.5 L214.5 35.5 L217.5 35.5 L218.5 34.5 L218.5 27.5 M221.5 27.5 L226.5 27.5 M224.5 27.5 L224.5 35.5 M234.5 28.5 L233.5 27.5 L230.5 27.5 L229.5 28.5 L229.5 34.5 L230.5 35.5 L233.5 35.5 L234.5 34.5 M245.5 31.5 L250.5 31.5 M262.5 28.5 L263.5 28.5 L264.5 27.5 L264.5 35.5 M262.5 35.5 L265.5 35.5 M270.5 28.5 L271.5 28.5 L272.5 27.5 L272.5 35.5 M270.5 35.5 L273.5 35.5 M285.5 35.5 L285.5 27.5 M290.5 35.5 L290.5 27.5 M286.5 28.5 L286.5 29.5 L287.5 30.5 L288.5 31.5 L288.5 30.5 L289.5 29.5 L289.5 28.5 M297.5 30.5 L294.5 30.5 L293.5 31.5 L293.5 34.5 L294.5 35.5 L296.5 35.5 L297.5 34.5 M297.5 30.5 L297.5 34.5 L298.5 35.5 M301.5 30.5 L301.5 35.5 M301.5 31.5 L303.5 31.5 L304.5 30.5 L305.5 30.5 L306.5 31.5 M317.5 28.5 L318.5 27.5 L321.5 27.5 L322.5 28.5 L322.5 30.5 L317.5 35.5 L322.5 35.5 M326.5 27.5 L329.5 27.5 L330.5 28.5 L330.5 34.5 L329.5 35.5 L326.5 35.5 L325.5 34.5 L325.5 28.5 L326.5 27.5 M334.5 28.5 L335.5 28.5 L336.5 27.5 L336.5 35.5 M334.5 35.5 L337.5 35.5 M346.5 27.5 L341.5 27.5 L341.5 31.5 L342.5 30.5 L345.5 30.5 L346.5 31.5 L346.5 34.5 L345.5 35.5 L342.5 35.5 L341.5 34.5 M349.5 35.5 L354.5 27.5 M358.5 27.5 L361.5 27.5 L362.5 28.5 L362.5 34.5 L361.5 35.5 L358.5 35.5 L357.5 34.5 L357.5 28.5 L358.5 27.5 M366.5 27.5 L369.5 27.5 L370.5 28.5 L370.5 34.5 L369.5 35.5 L366.5 35.5 L365.5 34.5 L365.5 28.5 L366.5 27.5 M374.5 27.5 L377.5 27.5 L378.5 28.5 L378.5 34.5 L377.5 35.5 L374.5 35.5 L373.5 34.5 L373.5 28.5 L374.5 27.5 M382.5 27.5 L385.5 27.5 L386.5 28.5 L386.5 34.5 L385.5 35.5 L382.5 35.5 L381.5 34.5 L381.5 28.5 L382.5 27.5 M390.5 27.5 L393.5 27.5 L394.5 28.5 L394.5 34.5 L393.5 35.5 L390.5 35.5 L389.5 34.5 L389.5 28.5 L390.5 27.5 M398.5 27.5 L401.5 27.5 L402.5 28.5 L402.5 34.5 L401.5 35.5 L398.5 35.5 L397.5 34.5 L397.5 28.5 L398.5 27.5 M405.5 27.5 L405.5 34.5 L406.5 35.5 L409.5 35.5 L410.5 34.5 L410.5 27.5 M413.5 27.5 L418.5 27.5 M416.5 27.5 L416.5 35.5 M426.5 28.5 L425.5 27.5 L422.5 27.5 L421.5 28.5 L421.5 34.5 L422.5 35.5 L425.5 35.5 L426.5 34.5" fill="none" stroke="#ffff00" stroke-width="1" stroke-linecap="square" stroke-linejoin="miter"/>
<path d="M62.5 439.5 L65.5 439.5 L66.5 440.5 L66.5 446.5 L65.5 447.5 L62.5 447.5 L61.5 446.5 L61.5 440.5 L62.5 439.5 M74.5 440.5 L73.5 439.5 L70.5 439.5 L69.5 440.5 L69.5 446.5 L70.5 447.5 L73.5 447.5 L74.5 446.5 L74.5 444.5 L73.5 443.5 L70.5 443.5 L69.5 444.5" fill="none" stroke="#ffff00" stroke-width="1" stroke-linecap="square" stroke-linejoin="miter"/>
<path d="M101.5 440.5 L102.5 440.5 L103.5 439.5 L103.5 447.5 M101.5 447.5 L104.5 447.5 M108.5 440.5 L109.5 439.5 L112.5 439.5 L113.5 440.5 L113.5 442.5 L108.5 447.5 L113.5 447.5" fill="none" stroke="#ffff00" stroke-width="1" stroke-linecap="square" stroke-linejoin="miter"/>
<path d="M140.5 440.5 L141.5 440.5 L142.5 439.5 L142.5 447.5 M140.5 447.5 L143.5 447.5 M148.5 439.5 L151.5 439.5 L152.5 440.5 L152.5 442.5 L151.5 443.5 L148.5 443.5 L147.5 442.5 L147.5 440.5 L148.5 439.5 M148.5 443.5 L147.5 444.5 L147.5 446.5 L148.5 447.5 L151.5 447.5 L152.5 446.5 L152.5 444.5 L151.5 443.5" fill="none" stroke="#ffff00" stroke-width="1" stroke-linecap="square" stroke-linejoin="miter"/>
<path d="M179.5 439.5 L182.5 439.5 L183.5 440.5 L183.5 446.5 L182.5 447.5 L179.5 447.5 L178.5 446.5 L178.5 440.5 L179.5 439.5 M187.5 439.5 L190.5 439.5 L191.5 440.5 L191.5 446.5 L190.5 447.5 L187.5 447.5 L186.5 446.5 L186.5 440.5 L187.5 439.5" fill="none" stroke="#ffff00" stroke-width="1" stroke-linecap="square" stroke-linejoin="miter"/>
<path d="M218.5 439.5 L221.5 439.5 L222.5 440.5 L222.5 446.5 L221.5 447.5 L218.5 447.5 L217.5 446.5 L217.5 440.5 L218.5 439.5 M230.5 440.5 L229.5 439.5 L226.5 439.5 L225.5 440.5 L225.5 446.5 L226.5 447.5 L229.5 447.5 L230.5 446.5 L230.5 444.5 L229.5 443.5 L226.5 443.5 L225.5 444.5" fill="none" stroke="#ffff00" stroke-width="1" stroke-linecap="square" stroke-linejoin="miter"/>
<path d="M258.5 440.5 L259.5 440.5 L260.5 439.5 L260.5 447.5 M258.5 447.5 L261.5 447.5 M265.5 440.5 L266.5 439.5 L269.5 439.5 L270.5 440.5 L270.5 442.5 L265.5 447.5 L270.5 447.5" fill="none" stroke="#ffff00" stroke-width="1" stroke-linecap="square" stroke-linejoin="miter"/>
<path d="M297.5 440.5 L298.5 440.5 L299.5 439.5 L299.5 447.5 M297.5 447.5 L300.5 447.5 M305.5 439.5 L308.5 439.5 L309.5 440.5 L309.5 442.5 L308.5 443.5 L305.5 443.5 L304.5 442.5 L304.5 440.5 L305.5 439.5 M305.5 443.5 L304.5 444.5 L304.5 446.5 L305.5 447.5 L308.5 447.5 L309.5 446.5 L309.5 444.5 L308.5 443.5" fill="none" stroke="#ffff00" stroke-width="1" stroke-linecap="square" stroke-linejoin="miter"/>
<path d="M336.5 439.5 L339.5 439.5 L340.5 440.5 L340.5 446.5 L339.5 447.5 L336.5 447.5 L335.5 446.5 L335.5 440.5 L336.5 439.5 M344.5 439.5 L347.5 439.5 L348.5 440.5 L348.5 446.5 L347.5 447.5 L344.5 447.5 L343.5 446.5 L343.5 440.5 L344.5 439.5" fill="none" stroke="#ffff00" stroke-width="1" stroke-linecap="square" stroke-linejoin="miter"/>
<path d="M375.5 439.5 L378.5 439.5 L379.5 440.5 L379.5 446.5 L378.5 447.5 L375.5 447.5 L374.5 446.5 L374.5 440.5 L375.5 439.5 M387.5 440.5 L386.5 439.5 L383.5 439.5 L382.5 440.5 L382.5 446.5 L383.5 447.5 L386.5 447.5 L387.5 446.5 L387.5 444.5 L386.5 443.5 L383.5 443.5 L382.5 444.5" fill="none" stroke="#ffff00" stroke-width="1" stroke-linecap="square" stroke-linejoin="miter"/>
<path d="M414.5 440.5 L415.5 440.5 L416.5 439.5 L416.5 447.5 M414.5 447.5 L417.5 447.5 M421.5 440.5 L422.5 439.5 L425.5 439.5 L426.5 440.5 L426.5 442.5 L421.5 447.5 L426.5 447.5" fill="none" stroke="#ffff00" stroke-width="1" stroke-linecap="square" stroke-linejoin="miter"/>
<path d="M454.5 440.5 L455.5 440.5 L456.5 439.5 L456.5 447.5 M454.5 447.5 L457.5 447.5 M462.5 439.5 L465.5 439.5 L466.5 440.5 L466.5 442.5 L465.5 443.5 L462.5 443.5 L461.5 442.5 L461.5 440.5 L462.5 439.5 M462.5 443.5 L461.5 444.5 L461.5 446.5 L462.5 447.5 L465.5 447.5 L466.5 446.5 L466.5 444.5 L465.5 443.5" fill="none" stroke="#ffff00" stroke-width="1" stroke-linecap="square" stroke-linejoin="miter"/>
<path d="M493.5 439.5 L496.5 439.5 L497.5 440.5 L497.5 446.5 L496.5 447.5 L493.5 447.5 L492.5 446.5 L492.5 440.5 L493.5 439.5 M501.5 439.5 L504.5 439.5 L505.5 440.5 L505.5 446.5 L504.5 447.5 L501.5 447.5 L500.5 446.5 L500.5 440.5 L501.5 439.5" fill="none" stroke="#ffff00" stroke-width="1" stroke-linecap="square" stroke-linejoin="miter"/>
<path d="M532.5 439.5 L535.5 439.5 L536.5 440.5 L536.5 446.5 L535.5 447.5 L532.5 447.5 L531.5 446.5 L531.5 440.5 L532.5 439.5 M544.5 440.5 L543.5 439.5 L540.5 439.5 L539.5 440.5 L539.5 446.5 L540.5 447.5 L543.5 447.5 L544.5 446.5 L544.5 444.5 L543.5 443.5 L540.5 443.5 L539.5 444.5" fill="none" stroke="#ffff00" stroke-width="1" stroke-linecap="square" stroke-linejoin="miter"/>
<path d="M163.5 452.5 L166.5 452.5 L167.5 453.5 L167.5 459.5 L166.5 460.5 L163.5 460.5 L162.5 459.5 L162.5 453.5 L163.5 452.5 M175.5 455.5 L174.5 456.5 L171.5 456.5 L170.5 455.5 L170.5 453.5 L171.5 452.5 L174.5 452.5 L175.5 453.5 L175.5 459.5 L174.5 460.5 L171.5 460.5 M186.5 460.5 L186.5 452.5 M191.5 460.5 L191.5 452.5 M187.5 453.5 L187.5 454.5 L188.5 455.5 L189.5 456.5 L189.5 455.5 L190.5 454.5 L190.5 453.5 M198.5 455.5 L195.5 455.5 L194.5 456.5 L194.5 459.5 L195.5 460.5 L197.5 460.5 L198.5 459.5 M198.5 455.5 L198.5 459.5 L199.5 460.5 M202.5 455.5 L202.5 460.5 M202.5 456.5 L204.5 456.5 L205.5 455.5 L206.5 455.5 L207.5 456.5" fill="none" stroke="#ffff00" stroke-width="1" stroke-linecap="square" stroke-linejoin="miter"/>
<path d="M320.5 453.5 L321.5 453.5 L322.5 452.5 L322.5 460.5 M320.5 460.5 L323.5 460.5 M328.5 452.5 L331.5 452.5 L332.5 453.5 L332.5 459.5 L331.5 460.5 L328.5 460.5 L327.5 459.5 L327.5 453.5 L328.5 452.5 M343.5 460.5 L343.5 452.5 M348.5 460.5 L348.5 452.5 M344.5 453.5 L344.5 454.5 L345.5 455.5 L346.5 456.5 L346.5 455.5 L347.5 454.5 L347.5 453.5 M355.5 455.5 L352.5 455.5 L351.5 456.5 L351.5 459.5 L352.5 460.5 L354.5 460.5 L355.5 459.5 M355.5 455.5 L355.5 459.5 L356.5 460.5 M359.5 455.5 L359.5 460.5 M359.5 456.5 L361.5 456.5 L362.5 455.5 L363.5 455.5 L364.5 456.5" fill="none" stroke="#ffff00" stroke-width="1" stroke-linecap="square" stroke-linejoin="miter"/>
<path d="M477.5 453.5 L478.5 453.5 L479.5 452.5 L479.5 460.5 M477.5 460.5 L480.5 460.5 M485.5 453.5 L486.5 453.5 L487.5 452.5 L487.5 460.5 M485.5 460.5 L488.5 460.5 M500.5 460.5 L500.5 452.5 M505.5 460.5 L505.5 452.5 M501.5 453.5 L501.5 454.5 L502.5 455.5 L503.5 456.5 L503.5 455.5 L504.5 454.5 L504.5 453.5 M512.5 455.5 L509.5 455.5 L508.5 456.5 L508.5 459.5 L509.5 460.5 L511.5 460.5 L512.5 459.5 M512.5 455.5 L512.5 459.5 L513.5 460.5 M516.5 455.5 L516.5 460.5 M516.5 456.5 L518.5 456.5 L519.5 455.5 L520.5 455.5 L521.5 456.5" fill="none" stroke="#ffff00" stroke-width="1" stroke-linecap="square" stroke-linejoin="miter"/>
<path d="M16.5 471.5 L17.5 470.5 L20.5 470.5 L21.5 471.5 L21.5 473.5 L16.5 478.5 L21.5 478.5" fill="none" stroke="#ffff00" stroke-width="1" stroke-linecap="square" stroke-linejoin="miter"/>
<path d="M567.5 55.5 L569.5 55.5 L570.5 56.5 L570.5 60.5 L569.5 61.5 L567.5 61.5 L566.5 60.5 L566.5 56.5 L567.5 55.5 M582.5 55.5 L578.5 55.5 L578.5 58.5 L579.5 57.5 L581.5 57.5 L582.5 58.5 L582.5 60.5 L581.5 61.5 L579.5 61.5 L578.5 60.5" fill="none" stroke="#ff0000" stroke-width="1" stroke-linecap="square" stroke-linejoin="miter"/>
<g fill="#ff0000"><rect x="572" y="60" width="2" height="2"/></g>
<path d="M567.5 71.5 L569.5 71.5 L570.5 72.5 L570.5 76.5 L569.5 77.5 L567.5 77.5 L566.5 76.5 L566.5 72.5 L567.5 71.5 M579.5 71.5 L581.5 71.5 L582.5 72.5 L582.5 76.5 L581.5 77.5 L579.5 77.5 L578.5 76.5 L578.5 72.5 L579.5 71.5" fill="none" stroke="#ff0000" stroke-width="1" stroke-linecap="square" stroke-linejoin="miter"/>
<g fill="#ff0000"><rect x="572" y="76" width="2" height="2"/></g>
<path d="M560.5 90.5 L564.5 90.5 M567.5 87.5 L569.5 87.5 L570.5 88.5 L570.5 92.5 L569.5 93.5 L567.5 93.5 L566.5 92.5 L566.5 88.5 L567.5 87.5 M582.5 87.5 L578.5 87.5 L578.5 90.5 L579.5 89.5 L581.5 89.5 L582.5 90.5 L582.5 92.5 L581.5 93.5 L579.5 93.5 L578.5 92.5" fill="none" stroke="#ff0000" stroke-width="1" stroke-linecap="square" stroke-linejoin="miter"/>
<g fill="#ff0000"><rect x="572" y="92" width="2" height="2"/></g>
<path d="M560.5 106.5 L564.5 106.5 M567.5 104.5 L568.5 103.5 L568.5 109.5 M567.5 109.5 L569.5 109.5 M579.5 103.5 L581.5 103.5 L582.5 104.5 L582.5 108.5 L581.5 109.5 L579.5 109.5 L578.5 108.5 L578.5 104.5 L579.5 103.5" fill="none" stroke="#ff0000" stroke-width="1" stroke-linecap="square" stroke-linejoin="miter"/>
<g fill="#ff0000"><rect x="572" y="108" width="2" height="2"/></g>
<path d="M560.5 122.5 L564.5 122.5 M567.5 120.5 L568.5 119.5 L568.5 125.5 M567.5 125.5 L569.5 125.5 M582.5 119.5 L578.5 119.5 L578.5 122.5 L579.5 121.5 L581.5 121.5 L582.5 122.5 L582.5 124.5 L581.5 125.5 L579.5 125.5 L578.5 124.5" fill="none" stroke="#ff0000" stroke-width="1" stroke-linecap="square" stroke-linejoin="miter"/>
<g fill="#ff0000"><rect x="572" y="124" width="2" height="2"/></g>
<path d="M560.5 138.5 L564.5 138.5 M566.5 136.5 L567.5 135.5 L569.5 135.5 L570.5 136.5 L570.5 137.5 L566.5 141.5 L570.5 141.5 M579.5 135.5 L581.5 135.5 L582.5 136.5 L582.5 140.5 L581.5 141.5 L579.5 141.5 L578.5 140.5 L578.5 136.5 L579.5 135.5" fill="none" stroke="#ff0000" stroke-width="1" stroke-linecap="square" stroke-linejoin="miter"/>
<g fill="#ff0000"><rect x="572" y="140" width="2" height="2"/></g>
<path d="M558.5 162.5 L557.5 163.5 L555.5 163.5 L554.5 162.5 L554.5 161.5 L555.5 160.5 L557.5 160.5 L558.5 161.5 L558.5 165.5 L557.5 166.5 L555.5 166.5 M561.5 160.5 L563.5 160.5 L564.5 161.5 L564.5 162.5 L563.5 163.5 L561.5 163.5 L560.5 162.5 L560.5 161.5 L561.5 160.5 M561.5 163.5 L560.5 164.5 L560.5 165.5 L561.5 166.5 L563.5 166.5 L564.5 165.5 L564.5 164.5 L563.5 163.5 M570.5 160.5 L566.5 160.5 L566.5 163.5 L567.5 162.5 L569.5 162.5 L570.5 163.5 L570.5 165.5 L569.5 166.5 L567.5 166.5 L566.5 165.5 M579.5 160.5 L581.5 160.5 L582.5 161.5 L582.5 165.5 L581.5 166.5 L579.5 166.5 L578.5 165.5 L578.5 161.5 L579.5 160.5" fill="none" stroke="#ff0000" stroke-width="1" stroke-linecap="square" stroke-linejoin="miter"/>
<g fill="#ff0000"><rect x="572" y="165" width="2" height="2"/></g>
<path d="M558.5 186.5 L557.5 187.5 L555.5 187.5 L554.5 186.5 L554.5 185.5 L555.5 184.5 L557.5 184.5 L558.5 185.5 L558.5 189.5 L557.5 190.5 L555.5 190.5 M561.5 184.5 L563.5 184.5 L564.5 185.5 L564.5 186.5 L563.5 187.5 L561.5 187.5 L560.5 186.5 L560.5 185.5 L561.5 184.5 M561.5 187.5 L560.5 188.5 L560.5 189.5 L561.5 190.5 L563.5 190.5 L564.5 189.5 L564.5 188.5 L563.5 187.5 M567.5 184.5 L569.5 184.5 L570.5 185.5 L570.5 189.5 L569.5 190.5 L567.5 190.5 L566.5 189.5 L566.5 185.5 L567.5 184.5 M579.5 184.5 L581.5 184.5 L582.5 185.5 L582.5 189.5 L581.5 190.5 L579.5 190.5 L578.5 189.5 L578.5 185.5 L579.5 184.5" fill="none" stroke="#ff0000" stroke-width="1" stroke-linecap="square" stroke-linejoin="miter"/>
<g fill="#ff0000"><rect x="572" y="189" width="2" height="2"/></g>
<path d="M558.5 210.5 L557.5 211.5 L555.5 211.5 L554.5 210.5 L554.5 209.5 L555.5 208.5 L557.5 208.5 L558.5 209.5 L558.5 213.5 L557.5 214.5 L555.5 214.5 M560.5 208.5 L564.5 208.5 L562.5 214.5 M570.5 208.5 L566.5 208.5 L566.5 211.5 L567.5 210.5 L569.5 210.5 L570.5 211.5 L570.5 213.5 L569.5 214.5 L567.5 214.5 L566.5 213.5 M579.5 208.5 L581.5 208.5 L582.5 209.5 L582.5 213.5 L581.5 214.5 L579.5 214.5 L578.5 213.5 L578.5 209.5 L579.5 208.5" fill="none" stroke="#ff0000" stroke-width="1" stroke-linecap="square" stroke-linejoin="miter"/>
<g fill="#ff0000"><rect x="572" y="213" width="2" height="2"/></g>
<path d="M558.5 234.5 L557.5 235.5 L555.5 235.5 L554.5 234.5 L554.5 233.5 L555.5 232.5 L557.5 232.5 L558.5 233.5 L558.5 237.5 L557.5 238.5 L555.5 238.5 M560.5 232.5 L564.5 232.5 L562.5 238.5 M567.5 232.5 L569.5 232.5 L570.5 233.5 L570.5 237.5 L569.5 238.5 L567.5 238.5 L566.5 237.5 L566.5 233.5 L567.5 232.5 M579.5 232.5 L581.5 232.5 L582.5 233.5 L582.5 237.5 L581.5 238.5 L579.5 238.5 L578.5 237.5 L578.5 233.5 L579.5 232.5" fill="none" stroke="#ff0000" stroke-width="1" stroke-linecap="square" stroke-linejoin="miter"/>
<g fill="#ff0000"><rect x="572" y="237" width="2" height="2"/></g>
<path d="M570.5 249.5 L566.5 249.5 L566.5 252.5 L567.5 251.5 L569.5 251.5 L570.5 252.5 L570.5 254.5 L569.5 255.5 L567.5 255.5 L566.5 254.5 M579.5 249.5 L581.5 249.5 L582.5 250.5 L582.5 254.5 L581.5 255.5 L579.5 255.5 L578.5 254.5 L578.5 250.5 L579.5 249.5" fill="none" stroke="#ff0000" stroke-width="1" stroke-linecap="square" stroke-linejoin="miter"/>
<g fill="#ff0000"><rect x="572" y="254" width="2" height="2"/></g>
<path d="M569.5 271.5 L569.5 265.5 L566.5 269.5 L570.5 269.5 M579.5 265.5 L581.5 265.5 L582.5 266.5 L582.5 270.5 L581.5 271.5 L579.5 271.5 L578.5 270.5 L578.5 266.5 L579.5 265.5" fill="none" stroke="#ff0000" stroke-width="1" stroke-linecap="square" stroke-linejoin="miter"/>
<g fill="#ff0000"><rect x="572" y="270" width="2" height="2"/></g>
<path d="M566.5 282.5 L567.5 281.5 L569.5 281.5 L570.5 282.5 L570.5 283.5 L569.5 284.5 L568.5 284.5 M569.5 284.5 L570.5 285.5 L570.5 286.5 L569.5 287.5 L567.5 287.5 L566.5 286.5 M579.5 281.5 L581.5 281.5 L582.5 282.5 L582.5 286.5 L581.5 287.5 L579.5 287.5 L578.5 286.5 L578.5 282.5 L579.5 281.5" fill="none" stroke="#ff0000" stroke-width="1" stroke-linecap="square" stroke-linejoin="miter"/>
<g fill="#ff0000"><rect x="572" y="286" width="2" height="2"/></g>
<path d="M566.5 298.5 L567.5 297.5 L569.5 297.5 L570.5 298.5 L570.5 299.5 L566.5 303.5 L570.5 303.5 M579.5 297.5 L581.5 297.5 L582.5 298.5 L582.5 302.5 L581.5 303.5 L579.5 303.5 L578.5 302.5 L578.5 298.5 L579.5 297.5" fill="none" stroke="#ff0000" stroke-width="1" stroke-linecap="square" stroke-linejoin="miter"/>
<g fill="#ff0000"><rect x="572" y="302" width="2" height="2"/></g>
<path d="M567.5 314.5 L568.5 313.5 L568.5 319.5 M567.5 319.5 L569.5 319.5 M579.5 313.5 L581.5 313.5 L582.5 314.5 L582.5 318.5 L581.5 319.5 L579.5 319.5 L578.5 318.5 L578.5 314.5 L579.5 313.5" fill="none" stroke="#ff0000" stroke-width="1" stroke-linecap="square" stroke-linejoin="miter"/>
<g fill="#ff0000"><rect x="572" y="318" width="2" height="2"/></g>
<path d="M567.5 329.5 L569.5 329.5 L570.5 330.5 L570.5 334.5 L569.5 335.5 L567.5 335.5 L566.5 334.5 L566.5 330.5 L567.5 329.5 M579.5 329.5 L581.5 329.5 L582.5 330.5 L582.5 334.5 L581.5 335.5 L579.5 335.5 L578.5 334.5 L578.5 330.5 L579.5 329.5" fill="none" stroke="#ff0000" stroke-width="1" stroke-linecap="square" stroke-linejoin="miter"/>
<g fill="#ff0000"><rect x="572" y="334" width="2" height="2"/></g>
<path d="M555.5 347.5 L556.5 346.5 L556.5 352.5 M555.5 352.5 L557.5 352.5 M561.5 346.5 L563.5 346.5 L564.5 347.5 L564.5 351.5 L563.5 352.5 L561.5 352.5 L560.5 351.5 L560.5 347.5 L561.5 346.5 M567.5 346.5 L569.5 346.5 L570.5 347.5 L570.5 351.5 L569.5 352.5 L567.5 352.5 L566.5 351.5 L566.5 347.5 L567.5 346.5 M579.5 346.5 L581.5 346.5 L582.5 347.5 L582.5 351.5 L581.5 352.5 L579.5 352.5 L578.5 351.5 L578.5 347.5 L579.5 346.5" fill="none" stroke="#ff0000" stroke-width="1" stroke-linecap="square" stroke-linejoin="miter"/>
<g fill="#ff0000"><rect x="572" y="351" width="2" height="2"/></g>
<path d="M564.5 364.5 L563.5 365.5 L561.5 365.5 L560.5 364.5 L560.5 363.5 L561.5 362.5 L563.5 362.5 L564.5 363.5 L564.5 367.5 L563.5 368.5 L561.5 368.5 M567.5 362.5 L569.5 362.5 L570.5 363.5 L570.5 367.5 L569.5 368.5 L567.5 368.5 L566.5 367.5 L566.5 363.5 L567.5 362.5 M579.5 362.5 L581.5 362.5 L582.5 363.5 L582.5 367.5 L581.5 368.5 L579.5 368.5 L578.5 367.5 L578.5 363.5 L579.5 362.5" fill="none" stroke="#ff0000" stroke-width="1" stroke-linecap="square" stroke-linejoin="miter"/>
<g fill="#ff0000"><rect x="572" y="367" width="2" height="2"/></g>
<path d="M561.5 378.5 L563.5 378.5 L564.5 379.5 L564.5 380.5 L563.5 381.5 L561.5 381.5 L560.5 380.5 L560.5 379.5 L561.5 378.5 M561.5 381.5 L560.5 382.5 L560.5 383.5 L561.5 384.5 L563.5 384.5 L564.5 383.5 L564.5 382.5 L563.5 381.5 M567.5 378.5 L569.5 378.5 L570.5 379.5 L570.5 383.5 L569.5 384.5 L567.5 384.5 L566.5 383.5 L566.5 379.5 L567.5 378.5 M579.5 378.5 L581.5 378.5 L582.5 379.5 L582.5 383.5 L581.5 384.5 L579.5 384.5 L578.5 383.5 L578.5 379.5 L579.5 378.5" fill="none" stroke="#ff0000" stroke-width="1" stroke-linecap="square" stroke-linejoin="miter"/>
<g fill="#ff0000"><rect x="572" y="383" width="2" height="2"/></g>
<path d="M560.5 394.5 L564.5 394.5 L562.5 400.5 M567.5 394.5 L569.5 394.5 L570.5 395.5 L570.5 399.5 L569.5 400.5 L567.5 400.5 L566.5 399.5 L566.5 395.5 L567.5 394.5 M579.5 394.5 L581.5 394.5 L582.5 395.5 L582.5 399.5 L581.5 400.5 L579.5 400.5 L578.5 399.5 L578.5 395.5 L579.5 394.5" fill="none" stroke="#ff0000" stroke-width="1" stroke-linecap="square" stroke-linejoin="miter"/>
<g fill="#ff0000"><rect x="572" y="399" width="2" height="2"/></g>
<path d="M564.5 411.5 L563.5 410.5 L561.5 410.5 L560.5 411.5 L560.5 415.5 L561.5 416.5 L563.5 416.5 L564.5 415.5 L564.5 414.5 L563.5 413.5 L561.5 413.5 L560.5 414.5 M567.5 410.5 L569.5 410.5 L570.5 411.5 L570.5 415.5 L569.5 416.5 L567.5 416.5 L566.5 415.5 L566.5 411.5 L567.5 410.5 M579.5 410.5 L581.5 410.5 L582.5 411.5 L582.5 415.5 L581.5 416.5 L579.5 416.5 L578.5 415.5 L578.5 411.5 L579.5 410.5" fill="none" stroke="#ff0000" stroke-width="1" stroke-linecap="square" stroke-linejoin="miter"/>
<g fill="#ff0000"><rect x="572" y="415" width="2" height="2"/></g>
<path d="M564.5 426.5 L560.5 426.5 L560.5 429.5 L561.5 428.5 L563.5 428.5 L564.5 429.5 L564.5 431.5 L563.5 432.5 L561.5 432.5 L560.5 431.5 M567.5 426.5 L569.5 426.5 L570.5 427.5 L570.5 431.5 L569.5 432.5 L567.5 432.5 L566.5 431.5 L566.5 427.5 L567.5 426.5 M579.5 426.5 L581.5 426.5 L582.5 427.5 L582.5 431.5 L581.5 432.5 L579.5 432.5 L578.5 431.5 L578.5 427.5 L579.5 426.5" fill="none" stroke="#ff0000" stroke-width="1" stroke-linecap="square" stroke-linejoin="miter"/>
<g fill="#ff0000"><rect x="572" y="431" width="2" height="2"/></g>
<path d="M589.5 86.5 L593.5 86.5 M591.5 86.5 L591.5 92.5 M598.5 86.5 L597.5 87.5 L597.5 91.5 L598.5 92.5 M605.5 87.5 L604.5 86.5 L602.5 86.5 L601.5 87.5 L601.5 91.5 L602.5 92.5 L604.5 92.5 L605.5 91.5 M608.5 86.5 L609.5 87.5 L609.5 91.5 L608.5 92.5" fill="none" stroke="#ff0000" stroke-width="1" stroke-linecap="square" stroke-linejoin="miter"/>
<path d="M589.5 189.5 L589.5 183.5 L592.5 183.5 L593.5 184.5 L593.5 185.5 L592.5 186.5 L589.5 186.5 M595.5 185.5 L595.5 189.5 M595.5 186.5 L596.5 186.5 L597.5 185.5 L598.5 185.5 L599.5 186.5 M601.5 187.5 L604.5 187.5 L605.5 186.5 L604.5 185.5 L602.5 185.5 L601.5 186.5 L601.5 188.5 L602.5 189.5 L605.5 189.5 M616.5 183.5 L615.5 184.5 L615.5 188.5 L616.5 189.5 M619.5 189.5 L619.5 185.5 L622.5 185.5 L623.5 186.5 L623.5 189.5 M621.5 185.5 L621.5 187.5 M625.5 183.5 L625.5 189.5 M625.5 185.5 L628.5 185.5 L629.5 186.5 L629.5 188.5 L628.5 189.5 L625.5 189.5 M632.5 183.5 L633.5 184.5 L633.5 188.5 L632.5 189.5" fill="none" stroke="#ff0000" stroke-width="1" stroke-linecap="square" stroke-linejoin="miter"/>
<path d="M593.5 281.5 L592.5 280.5 L590.5 280.5 L589.5 281.5 L589.5 282.5 L590.5 283.5 L592.5 283.5 L593.5 284.5 L593.5 285.5 L592.5 286.5 L590.5 286.5 L589.5 285.5 M595.5 286.5 L595.5 280.5 L598.5 280.5 L599.5 281.5 L599.5 282.5 L598.5 283.5 L595.5 283.5 M601.5 280.5 L601.5 286.5 L604.5 286.5 L605.5 285.5 L605.5 281.5 L604.5 280.5 L601.5 280.5 M610.5 280.5 L609.5 281.5 L609.5 285.5 L610.5 286.5 M613.5 286.5 L613.5 280.5 L615.5 283.5 L617.5 280.5 L617.5 286.5 M619.5 286.5 L619.5 280.5 L622.5 280.5 L623.5 281.5 L623.5 282.5 L622.5 283.5 L619.5 283.5 M629.5 281.5 L628.5 280.5 L626.5 280.5 L625.5 281.5 L625.5 282.5 L626.5 283.5 L628.5 283.5 L629.5 284.5 L629.5 285.5 L628.5 286.5 L626.5 286.5 L625.5 285.5 M632.5 280.5 L633.5 281.5 L633.5 285.5 L632.5 286.5" fill="none" stroke="#ff0000" stroke-width="1" stroke-linecap="square" stroke-linejoin="miter"/>
<path d="M589.5 383.5 L589.5 377.5 L592.5 377.5 L593.5 378.5 L593.5 379.5 L592.5 380.5 L589.5 380.5 M591.5 380.5 L593.5 383.5 M595.5 377.5 L595.5 383.5 M599.5 377.5 L599.5 383.5 M595.5 380.5 L599.5 380.5 M604.5 377.5 L603.5 378.5 L603.5 382.5 L604.5 383.5 M607.5 383.5 L611.5 377.5 M614.5 377.5 L615.5 378.5 L615.5 382.5 L614.5 383.5" fill="none" stroke="#ff0000" stroke-width="1" stroke-linecap="square" stroke-linejoin="miter"/>
<g fill="#ff0000"><rect x="607" y="377" width="2" height="2"/><rect x="610" y="382" width="2" height="2"/></g>
</svg>
</body></html>
